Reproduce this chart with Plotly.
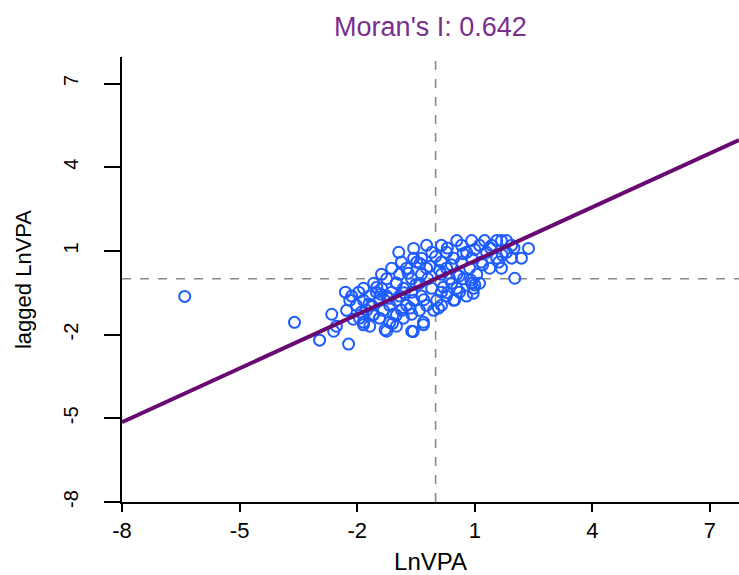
import plotly.graph_objects as go

# Moran scatter plot of LnVPA against its spatial lag
morans_i = 0.642
x_mean = 0.0
y_mean = 0.0

lnvpa = [
    0.54, 0.92, 1.25, 1.56, 1.68, 1.81,
    -0.23, 0.15, 0.66, 1.12, 1.43, 1.94,
    2.37, -0.56,
    -0.94, -0.10, 0.28, 0.79, 1.30, 1.81,
    2.19, -0.56, -0.36, 0.46, 0.92, 1.56, 1.94,
    -0.87, -0.48, 0.15, 0.66, 1.17, 1.61,
    -1.12, -0.74, -0.23, 0.28, 0.87, 1.38, 1.68,
    -1.38, -0.92, -0.36, 0.15, 0.54, 1.05,
    2.02, -1.25, -0.61, 0.36, 0.71,
    -1.58, -1.00, -0.41, 0.41, 0.92, 1.12,
    -1.84, -1.38, -0.82, -0.10, 0.54, 0.97,
    -2.30, -1.96, -1.51, -1.12, -0.61, 0.15, 0.61,
    -6.40, -2.14, -1.68, -1.25, -0.92, -0.36, 0.28, 0.79,
    -2.19, -1.84, -1.43, -1.00, -0.56, 0.03, 0.46,
    -2.02, -1.63, -1.17, -0.74, -0.23, 0.15,
    -2.27, -1.76, -1.33, -0.87, -0.41, -0.05,
    -2.65, -1.58, -1.07, -0.61,
    -1.94, -1.43, -0.82,
    -3.60, -1.84, -1.17, -0.31,
    -2.53, -1.68, -1.00,
    -2.60, -1.25, -0.61,
    -2.96, -2.22,
    -0.57, -0.31, -1.29, -1.84, 0.96, 1.00, 0.49, 0.07,
    -1.50, -1.70, -1.20, -0.80, -0.50, -0.20, 0.10, 0.40,
    0.70, 1.00, 1.40, 0.30, -0.40, -0.70, -1.00, -1.40,
    -1.90, -2.10, -1.60, -1.00, -0.30, 0.20, 0.60, 1.20,
    1.70, 2.00, 0.00, -0.15, 0.90, 0.30, -0.65, -1.10,
]

lagged_lnvpa = [
    1.37, 1.37, 1.37, 1.37, 1.37, 1.37,
    1.20, 1.20, 1.20, 1.20, 1.20, 1.20,
    1.09, 1.09,
    0.95, 0.95, 0.95, 0.95, 0.95, 0.95,
    0.74, 0.74, 0.74, 0.74, 0.74, 0.74, 0.74,
    0.60, 0.60, 0.60, 0.60, 0.60, 0.60,
    0.38, 0.38, 0.38, 0.38, 0.38, 0.38, 0.38,
    0.16, 0.16, 0.16, 0.16, 0.16, 0.16,
    0.02, 0.00, 0.00, 0.00, 0.00,
    -0.16, -0.16, -0.16, -0.16, -0.16, -0.16,
    -0.34, -0.34, -0.34, -0.34, -0.34, -0.34,
    -0.48, -0.48, -0.48, -0.48, -0.48, -0.48, -0.48,
    -0.63, -0.62, -0.62, -0.62, -0.62, -0.62, -0.62, -0.62,
    -0.77, -0.77, -0.77, -0.77, -0.77, -0.77, -0.77,
    -0.95, -0.95, -0.95, -0.95, -0.95, -0.95,
    -1.13, -1.13, -1.13, -1.13, -1.13, -1.13,
    -1.27, -1.27, -1.27, -1.27,
    -1.41, -1.41, -1.41,
    -1.56, -1.56, -1.56, -1.56,
    -1.70, -1.70, -1.70,
    -1.88, -1.88, -1.88,
    -2.20, -2.34,
    -1.89, -1.65, -1.83, -1.65, -0.52, -0.22, -0.76, -1.05,
    -0.30, -0.90, -0.70, -0.50, -0.20, 0.00, 0.30, 0.50,
    0.90, 1.05, 1.10, 1.10, 0.55, 0.20, -0.15, -0.55,
    -1.20, -1.45, -1.30, -1.30, -0.75, -0.30, 0.10, 0.50,
    0.85, 1.10, 0.80, 0.45, -0.05, -0.50, -1.05, -1.60,
]

tick_vals = [-8, -5, -2, 1, 4, 7]
x_range = [-8, 7.74]
y_range = [-8, 7.95]

FONT = "Liberation Sans, Arial, sans-serif"
POINT_COLOR = "#1d5cff"
LINE_COLOR = "#680a72"
TITLE_COLOR = "#7a2e8e"
GUIDE_COLOR = "#8a8a8a"

fig = go.Figure()

# reference lines at the means
fig.add_shape(type="line", xref="x", yref="paper", x0=x_mean, x1=x_mean, y0=0, y1=1,
              line=dict(color=GUIDE_COLOR, width=1.6, dash="dash"), layer="below")
fig.add_shape(type="line", xref="paper", yref="y", x0=0, x1=1, y0=y_mean, y1=y_mean,
              line=dict(color=GUIDE_COLOR, width=1.6, dash="dash"), layer="below")

fig.add_trace(go.Scatter(
    x=lnvpa, y=lagged_lnvpa, mode="markers",
    marker=dict(symbol="circle-open", size=11, color=POINT_COLOR,
                line=dict(width=2, color=POINT_COLOR)),
    showlegend=False, hoverinfo="x+y",
))

# regression line: slope equals Moran's I
fig.add_trace(go.Scatter(
    x=x_range, y=[morans_i * v for v in x_range], mode="lines",
    line=dict(color=LINE_COLOR, width=4), showlegend=False, hoverinfo="skip",
))

fig.update_layout(
    width=739, height=575,
    margin=dict(l=122, r=0, t=57, b=73),
    paper_bgcolor="white", plot_bgcolor="white",
    font=dict(family=FONT, color="black"),
    title=dict(text="Moran's I: 0.642", x=0.5, xref="paper", xanchor="center",
               y=1 - 27 / 575, yref="container", yanchor="middle",
               font=dict(size=27, color=TITLE_COLOR, family=FONT)),
    xaxis=dict(
        range=x_range, tickvals=tick_vals, ticktext=[str(v) for v in tick_vals],
        showgrid=False, zeroline=False, showline=True, linecolor="black", linewidth=2,
        ticks="outside", ticklen=8, tickwidth=2, tickcolor="black",
        tickfont=dict(size=22), ticklabelstandoff=0,
        title=dict(text="LnVPA", font=dict(size=24), standoff=12),
    ),
    yaxis=dict(
        range=y_range, tickvals=tick_vals, ticktext=[str(v) for v in tick_vals],
        showgrid=False, zeroline=False, showline=True, linecolor="black", linewidth=2,
        ticks="outside", ticklen=16, tickwidth=2, tickcolor="black",
        tickangle=-90, tickfont=dict(size=20), ticklabelstandoff=18,
        title=dict(text="lagged LnVPA", font=dict(size=22), standoff=22),
    ),
)

fig.write_html("out.html")
